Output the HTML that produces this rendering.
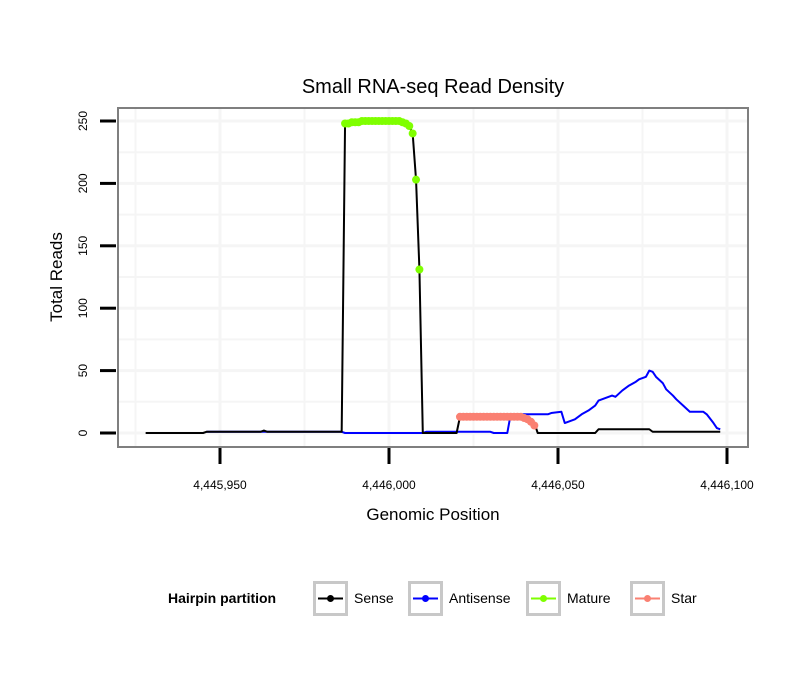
<!DOCTYPE html>
<html><head><meta charset="utf-8"><style>body{margin:0;background:#fff}svg{display:block;font-family:"Liberation Sans",sans-serif}</style></head>
<body>
<svg id="c" width="810" height="690"></svg>
<script>
const base=4445900;
const sensePos=[28,45,46,62,63,64,86,87,88,89,104,105,106,107,108,109,110,120,121,140,141,142,143,144,161,162,177,178,198];
const senseVal=[0,0,1,1,2,1,1,248,249,250,250,249,246,240,203,131,0,0,13,13,12,10,8,0,0,3,3,1,1];
const antiPos=[46,86,87,110,111,130,131,135,136,147,148,151,152,154,155,157,159,161,162,164,166,167,169,171,173,174,175,176,177,178,179,181,182,184,185,187,189,193,194,196,197,198];
const antiVal=[1,1,0,0,1,1,0,0,15,15,16,17,8,10,11,15,18,22,26,28,30,29,34,38,41,43,44,45,50,49,45,40,35,30,27,22,17,17,15,8,4,3];
const maturePos=[87,88,89,90,91,92,93,94,95,96,97,98,99,100,101,102,103,104,105,106,107,108,109];
const matureVal=[248,248,249,249,249,250,250,250,250,250,250,250,250,250,250,250,250,249,248,246,240,203,131];
const starPos=[121,122,123,124,125,126,127,128,129,130,131,132,133,134,135,136,137,138,139,140,141,142,143];
const starVal=[13,13,13,13,13,13,13,13,13,13,13,13,13,13,13,13,13,13,13,12,11,9,6];
const xTicks=[4445950,4446000,4446050,4446100];
const xTickLabels=["4,445,950","4,446,000","4,446,050","4,446,100"];
const yTicks=[0,50,100,150,200,250];
const X=v=>220+(v-4445950)*507/150;
const Y=v=>433-v*1.248;
const svg=document.getElementById('c');const NS='http://www.w3.org/2000/svg';
function mk(t,a,p){const e=document.createElementNS(NS,t);for(const k in a)e.setAttribute(k,a[k]);(p||svg).appendChild(e);return e;}
let e;
e=mk('rect',{x:118,y:108,width:630,height:339,fill:'#fff'});


for(let v=4445925;v<=4446100;v+=25){e=mk('line',{x1:X(v),x2:X(v),y1:109,y2:446,stroke:'#f5f5f5','stroke-width':(v%50==0)?3:2});

}
for(let v=0;v<=250;v+=25){e=mk('line',{x1:119,x2:747,y1:Y(v),y2:Y(v),stroke:'#f5f5f5','stroke-width':(v%50==0)?3:2});

}
function line(P,V,col,name){e=mk('polyline',{points:P.map((p,i)=>X(base+p)+','+Y(V[i])).join(' '),fill:'none',stroke:col,'stroke-width':2,'stroke-linejoin':'round'});

}
line(antiPos,antiVal,'#0000ff','antisense-line');
line(sensePos,senseVal,'#000','sense-line');
function pts(P,V,col,name){P.forEach((p,i)=>{e=mk('circle',{cx:X(base+p),cy:Y(V[i]),r:4,fill:col});

});}
pts(maturePos,matureVal,'#7fff00','mature-point');
pts(starPos,starVal,'#fa8072','star-point');
e=mk('rect',{x:118,y:108,width:630,height:339,fill:'none',stroke:'#7f7f7f','stroke-width':2});


yTicks.forEach(v=>{e=mk('line',{x1:100,x2:116,y1:Y(v),y2:Y(v),stroke:'#000','stroke-width':3});


e=mk('text',{x:0,y:0,transform:`translate(87,${Y(v)}) rotate(-90)`,'text-anchor':'middle','font-size':12,fill:'#000'});e.textContent=v;

});
xTicks.forEach((v,i)=>{e=mk('line',{x1:X(v),x2:X(v),y1:448,y2:464,stroke:'#000','stroke-width':3});


e=mk('text',{x:X(v),y:489,'text-anchor':'middle','font-size':12});e.textContent=xTickLabels[i];

});
e=mk('text',{x:433,y:93,'text-anchor':'middle','font-size':20});e.textContent='Small RNA-seq Read Density';


e=mk('text',{x:433,y:520,'text-anchor':'middle','font-size':17});e.textContent='Genomic Position';


e=mk('text',{x:0,y:0,transform:'translate(62,277) rotate(-90)','text-anchor':'middle','font-size':17});e.textContent='Total Reads';


e=mk('text',{x:168,y:603,'font-size':14,'font-weight':'bold'});e.textContent='Hairpin partition';


const leg=[['Sense','#000',313],['Antisense','#0000ff',408],['Mature','#7fff00',526],['Star','#fa8072',630]];
leg.forEach(([n,c,x])=>{const g=mk('g',{});


mk('rect',{x:x+1.5,y:582.5,width:32,height:32,fill:'#fff',stroke:'#c8c8c8','stroke-width':3},g);
mk('line',{x1:x+5,x2:x+30,y1:598.5,y2:598.5,stroke:c,'stroke-width':2},g);
mk('circle',{cx:x+17.5,cy:598.5,r:3.5,fill:c},g);
const t=mk('text',{x:x+41,y:603,'font-size':14},g);t.textContent=n;});
</script>
</body></html>
